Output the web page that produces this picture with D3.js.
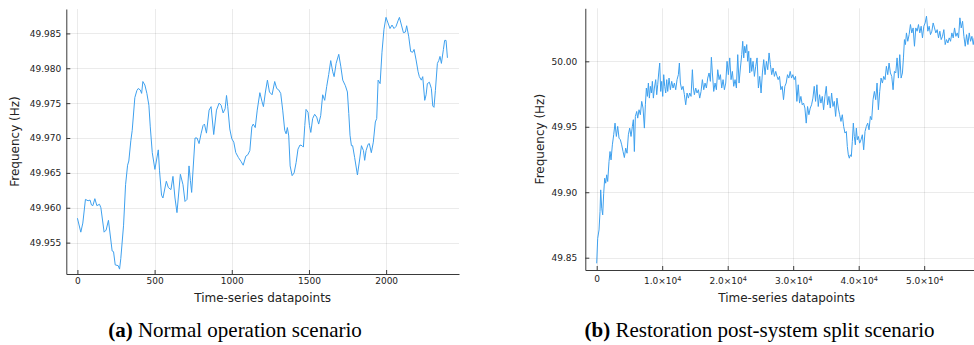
<!DOCTYPE html>
<html>
<head>
<meta charset="utf-8">
<script src="https://cdn.jsdelivr.net/npm/d3@7"></script>
<style>
  body { margin: 0; background: #fff; }
  svg { display: block; }
  .tick text { font-family: "DejaVu Sans", sans-serif; font-size: 9px; fill: #222; }
</style>
</head>
<body>
<svg id="fig" width="974" height="345"></svg>
<script>
// ---- (a) normal operation: sample index / frequency in Hz ----
const normalIdx = [
  0, 22, 35, 52, 69, 82, 91, 100, 113, 126, 143, 152, 173, 186, 201, 225, 234, 245, 264, 273,
  281, 299, 312, 325, 333, 346, 355, 372, 385, 394, 407, 416, 424, 437, 450, 463, 472, 485, 502, 524,
  532, 545, 554, 576, 589, 606, 619, 632, 645, 667, 684, 697, 710, 723, 732, 740, 762, 775, 788, 801,
  814, 823, 836, 853, 866, 883, 901, 918, 931, 944, 957, 966, 974, 987, 1000, 1013, 1026, 1043, 1061, 1074,
  1091, 1104, 1117, 1130, 1139, 1152, 1165, 1182, 1196, 1205, 1218, 1231, 1244, 1261, 1278, 1291, 1304, 1317, 1330, 1343,
  1352, 1360, 1369, 1378, 1391, 1404, 1417, 1429, 1442, 1455, 1464, 1473, 1481, 1494, 1503, 1512, 1524, 1537, 1550, 1563,
  1576, 1589, 1602, 1615, 1628, 1641, 1654, 1663, 1676, 1693, 1706, 1719, 1736, 1749, 1758, 1766, 1775, 1783, 1796, 1814,
  1827, 1840, 1853, 1861, 1870, 1883, 1891, 1904, 1917, 1930, 1939, 1948, 1961, 1973, 1986, 1999, 2012, 2025, 2038, 2051,
  2064, 2077, 2086, 2099, 2112, 2125, 2133, 2146, 2159, 2172, 2181, 2194, 2207, 2215, 2228, 2237, 2250, 2259, 2267, 2280,
  2293, 2302, 2310, 2319, 2332, 2341, 2349, 2358, 2371, 2379, 2388, 2397
];
const normalHz = [
  49.9585, 49.9565, 49.9578, 49.9612, 49.9610, 49.9611, 49.9604, 49.9603, 49.9613, 49.9603, 49.9605, 49.9600, 49.9565, 49.9568, 49.9582, 49.9538, 49.9537, 49.9518, 49.9517, 49.9512,
  49.9527, 49.9575, 49.9633, 49.9661, 49.9667, 49.9696, 49.9711, 49.9758, 49.9768, 49.9771, 49.9769, 49.9764, 49.9781, 49.9776, 49.9764, 49.9747, 49.9716, 49.9679, 49.9655, 49.9683,
  49.9653, 49.9618, 49.9614, 49.9638, 49.9629, 49.9626, 49.9645, 49.9614, 49.9593, 49.9648, 49.9633, 49.9609, 49.9612, 49.9660, 49.9639, 49.9622, 49.9700, 49.9700, 49.9692, 49.9706,
  49.9718, 49.9720, 49.9707, 49.9740, 49.9745, 49.9705, 49.9740, 49.9750, 49.9747, 49.9736, 49.9742, 49.9761, 49.9745, 49.9713, 49.9699, 49.9694, 49.9679, 49.9672, 49.9666, 49.9661,
  49.9674, 49.9676, 49.9682, 49.9716, 49.9720, 49.9715, 49.9740, 49.9765, 49.9752, 49.9745, 49.9766, 49.9783, 49.9766, 49.9762, 49.9781, 49.9771, 49.9769, 49.9764, 49.9740, 49.9711,
  49.9706, 49.9715, 49.9703, 49.9660, 49.9646, 49.9650, 49.9665, 49.9684, 49.9690, 49.9689, 49.9687, 49.9718, 49.9741, 49.9737, 49.9718, 49.9708, 49.9728, 49.9734, 49.9730, 49.9720,
  49.9732, 49.9762, 49.9754, 49.9774, 49.9791, 49.9811, 49.9795, 49.9788, 49.9807, 49.9820, 49.9803, 49.9783, 49.9775, 49.9766, 49.9735, 49.9704, 49.9689, 49.9689, 49.9672, 49.9647,
  49.9667, 49.9689, 49.9682, 49.9668, 49.9682, 49.9691, 49.9692, 49.9679, 49.9694, 49.9723, 49.9728, 49.9783, 49.9778, 49.9823, 49.9856, 49.9873, 49.9865, 49.9857, 49.9862, 49.9857,
  49.9860, 49.9868, 49.9873, 49.9862, 49.9851, 49.9852, 49.9861, 49.9846, 49.9824, 49.9823, 49.9827, 49.9812, 49.9795, 49.9788, 49.9783, 49.9788, 49.9754, 49.9762, 49.9778, 49.9780,
  49.9771, 49.9746, 49.9744, 49.9768, 49.9807, 49.9811, 49.9817, 49.9807, 49.9827, 49.9840, 49.9840, 49.9815
];

// ---- (b) restoration after system split: sample index / frequency in Hz ----
const splitIdx = [
  0, 153, 356, 509, 611, 764, 916, 1069, 1222, 1374, 1527, 1680, 1883, 2036, 2189, 2392, 2596, 2800, 3003, 3207,
  3410, 3614, 3817, 4021, 4225, 4428, 4632, 4836, 5039, 5243, 5446, 5599, 5752, 5904, 6108, 6261, 6464, 6668, 6872, 7075,
  7279, 7431, 7584, 7737, 7890, 8042, 8195, 8348, 8500, 8653, 8806, 9009, 9162, 9315, 9467, 9620, 9773, 9926, 10078, 10231,
  10384, 10536, 10689, 10842, 11045, 11249, 11453, 11656, 11860, 12063, 12267, 12471, 12623, 12776, 12980, 13183, 13387, 13590, 13794, 13998,
  14201, 14405, 14608, 14761, 14914, 15117, 15321, 15525, 15728, 15932, 16135, 16339, 16543, 16746, 16950, 17153, 17357, 17510, 17662, 17866,
  18069, 18273, 18477, 18680, 18884, 19087, 19291, 19495, 19698, 19902, 20105, 20309, 20513, 20716, 20920, 21123, 21327, 21531, 21734, 21938,
  22141, 22294, 22447, 22600, 22752, 22905, 23058, 23210, 23363, 23516, 23669, 23872, 24076, 24279, 24483, 24686, 24890, 25094, 25297, 25501,
  25704, 25908, 26112, 26315, 26519, 26722, 26926, 27130, 27333, 27537, 27705, 27909, 28113, 28317, 28521, 28725, 28929, 29133, 29337, 29541,
  29745, 29949, 30153, 30357, 30561, 30765, 30969, 31173, 31377, 31581, 31785, 31989, 32193, 32397, 32601, 32805, 33009, 33213, 33417, 33621,
  33825, 34029, 34233, 34437, 34641, 34845, 35049, 35253, 35457, 35661, 35865, 36069, 36273, 36477, 36681, 36885, 37089, 37293, 37497, 37701,
  37905, 38109, 38262, 38415, 38568, 38721, 38874, 39027, 39180, 39333, 39486, 39639, 39792, 39945, 40149, 40353, 40557, 40761, 40965, 41169,
  41373, 41577, 41781, 41985, 42189, 42393, 42597, 42801, 43005, 43209, 43413, 43617, 43821, 44025, 44229, 44433, 44637, 44841, 45045, 45249,
  45453, 45657, 45861, 46065, 46269, 46473, 46677, 46830, 46983, 47136, 47289, 47493, 47697, 47901, 48105, 48309, 48513, 48717, 48921, 49125,
  49329, 49533, 49737, 49941, 50145, 50349, 50553, 50757, 50961, 51165, 51369, 51573, 51777, 51981, 52185, 52389, 52593, 52797, 53001, 53205,
  53409, 53613, 53817, 54021, 54225, 54429, 54633, 54837, 55041, 55245, 55449, 55653, 55857, 56061, 56265, 56469, 56673, 56877, 57081, 57285,
  57489, 57642, 57900
];
const splitHz = [
  49.8457, 49.8648, 49.8712, 49.8852, 49.9018, 49.8878, 49.8827, 49.8992, 49.9107, 49.9069, 49.9133, 49.9082, 49.9235, 49.9311, 49.9247, 49.9362, 49.9439, 49.9528, 49.9426, 49.9503,
  49.9413, 49.9401, 49.9362, 49.9311, 49.9265, 49.9337, 49.9298, 49.9439, 49.9490, 49.9426, 49.9503, 49.9554, 49.9311, 49.9579, 49.9617, 49.9566, 49.9630, 49.9592, 49.9694, 49.9643,
  49.9490, 49.9668, 49.9796, 49.9732, 49.9834, 49.9719, 49.9809, 49.9758, 49.9847, 49.9719, 49.9796, 49.9860, 49.9745, 49.9821, 49.9911, 49.9987, 49.9770, 49.9847, 49.9732, 49.9898,
  49.9809, 49.9758, 49.9860, 49.9770, 49.9872, 49.9783, 49.9847, 49.9796, 49.9834, 49.9783, 49.9860, 49.9898, 49.9987, 49.9834, 49.9783, 49.9809, 49.9745, 49.9668, 49.9758, 49.9719,
  49.9758, 49.9732, 49.9936, 49.9796, 49.9745, 49.9796, 49.9758, 49.9783, 49.9719, 49.9770, 49.9860, 49.9783, 49.9834, 49.9796, 49.9872, 49.9911, 49.9847, 50.0031, 49.9911, 49.9770,
  49.9834, 49.9783, 49.9936, 49.9860, 49.9898, 49.9796, 49.9860, 49.9783, 49.9834, 50.0000, 49.9898, 50.0026, 49.9860, 49.9923, 49.9809, 49.9860, 49.9796, 50.0051, 49.9834, 49.9949,
  50.0051, 50.0153, 50.0026, 50.0115, 50.0064, 50.0128, 50.0000, 50.0077, 49.9911, 50.0026, 49.9923, 50.0000, 49.9885, 49.9962, 50.0026, 49.9796, 49.9885, 49.9758, 49.9911, 50.0013,
  49.9898, 50.0000, 49.9936, 50.0064, 49.9974, 49.9898, 49.9949, 49.9885, 49.9923, 49.9885, 49.9860, 49.9885, 49.9783, 49.9809, 49.9707, 49.9809, 49.9834, 49.9898, 49.9872, 49.9923,
  49.9872, 49.9898, 49.9860, 49.9885, 49.9694, 49.9821, 49.9681, 49.9732, 49.9668, 49.9681, 49.9643, 49.9528, 49.9655, 49.9592, 49.9643, 49.9668, 49.9719, 49.9809, 49.9694, 49.9821,
  49.9655, 49.9745, 49.9681, 49.9732, 49.9630, 49.9732, 49.9809, 49.9668, 49.9732, 49.9643, 49.9758, 49.9655, 49.9694, 49.9579, 49.9719, 49.9643, 49.9592, 49.9541, 49.9592, 49.9503,
  49.9452, 49.9464, 49.9350, 49.9286, 49.9260, 49.9286, 49.9273, 49.9388, 49.9528, 49.9426, 49.9362, 49.9490, 49.9401, 49.9426, 49.9375, 49.9401, 49.9439, 49.9324, 49.9464, 49.9503,
  49.9528, 49.9477, 49.9579, 49.9554, 49.9707, 49.9770, 49.9707, 49.9834, 49.9630, 49.9770, 49.9872, 49.9834, 49.9885, 49.9860, 49.9962, 49.9898, 49.9987, 49.9911, 49.9885, 49.9783,
  49.9923, 49.9911, 50.0026, 49.9872, 50.0051, 49.9872, 49.9911, 50.0026, 50.0166, 50.0128, 50.0217, 50.0153, 50.0204, 50.0281, 50.0217, 50.0255, 50.0115, 50.0255, 50.0230, 50.0281,
  50.0217, 50.0268, 50.0179, 50.0268, 50.0293, 50.0345, 50.0230, 50.0268, 50.0204, 50.0230, 50.0293, 50.0255, 50.0217, 50.0242, 50.0179, 50.0230, 50.0166, 50.0191, 50.0242, 50.0128,
  50.0166, 50.0140, 50.0179, 50.0153, 50.0217, 50.0179, 50.0255, 50.0191, 50.0217, 50.0179, 50.0332, 50.0255, 50.0306, 50.0191, 50.0115, 50.0204, 50.0128, 50.0217, 50.0153, 50.0191,
  50.0128, 50.0179, 50.0150
];

// ---- tick values ----
const normalXTicks = [0, 500, 1000, 1500, 2000];
const normalYTicks = [49.955, 49.960, 49.965, 49.970, 49.975, 49.980, 49.985];
const splitXTicks = [0, 10000, 20000, 30000, 40000, 50000];
const splitYTicks = [49.85, 49.90, 49.95, 50.00];

const LINE_COLOR = "#3ea0ee";
const svg = d3.select("#fig");

// x tick label in the 1.0×10⁴ style used for the long series
function sciLabel(sel) {
  sel.each(function (d) {
    const t = d3.select(this);
    t.text(null);
    if (d === 0) { t.text("0").attr("y", +t.attr("y") - 2.5); return; }
    const exp = Math.floor(Math.log10(d));
    const mant = (d / Math.pow(10, exp)).toFixed(1);
    t.append("tspan").text(mant + "\u00d710");
    t.append("tspan").attr("dy", "-0.45em").attr("font-size", "6.5px").text(exp);
  });
}

function drawPanel(p) {
  const x = d3.scaleLinear().domain(p.xDomain).range([p.left, p.right]);
  const y = d3.scaleLinear().domain(p.yDomain).range([p.bottom, p.top]);
  const g = svg.append("g");

  const clipId = "clip-" + p.id;
  g.append("clipPath").attr("id", clipId)
    .append("rect").attr("x", p.left).attr("y", p.top)
    .attr("width", p.right - p.left).attr("height", p.bottom - p.top);

  // grid
  const grid = g.append("g").attr("stroke", "#000").attr("stroke-opacity", 0.08).attr("stroke-width", 1);
  grid.selectAll("line.gx").data(p.xTicks).join("line")
    .attr("x1", d => Math.round(x(d)) + 0.5).attr("x2", d => Math.round(x(d)) + 0.5)
    .attr("y1", p.top).attr("y2", p.bottom);
  grid.selectAll("line.gy").data(p.yTicks).join("line")
    .attr("y1", d => Math.round(y(d)) + 0.5).attr("y2", d => Math.round(y(d)) + 0.5)
    .attr("x1", p.left).attr("x2", p.right);

  // series
  const pts = p.xs.map((v, i) => [v, p.ys[i]]);
  g.append("path")
    .attr("clip-path", `url(#${clipId})`)
    .attr("d", d3.line().x(d => x(d[0])).y(d => y(d[1]))(pts))
    .attr("fill", "none")
    .attr("stroke", LINE_COLOR)
    .attr("stroke-width", p.lineWidth)
    .attr("stroke-linejoin", "round");

  // axes with short inward ticks
  const xAxis = d3.axisBottom(x).tickValues(p.xTicks).tickSize(-4).tickSizeOuter(0).tickPadding(p.xPad);
  if (p.xFormat) xAxis.tickFormat(p.xFormat);
  const gx = g.append("g").attr("transform", `translate(0,${p.bottom})`).call(xAxis);
  if (p.sci) gx.selectAll(".tick text").call(sciLabel);

  const yAxis = d3.axisLeft(y).tickValues(p.yTicks).tickSize(-4).tickSizeOuter(0)
    .tickPadding(p.yPad).tickFormat(p.yFormat);
  const gy = g.append("g").attr("transform", `translate(${p.left},0)`).call(yAxis);

  [gx, gy].forEach(a => {
    a.select(".domain").attr("stroke", "#3a3a3a").attr("stroke-width", 1);
    a.selectAll(".tick line").attr("stroke", "#3a3a3a");
  });

  // axis titles
  g.append("text")
    .attr("x", (p.left + p.right) / 2).attr("y", 301.5)
    .attr("text-anchor", "middle")
    .attr("font-family", "DejaVu Sans, sans-serif").attr("font-size", 12).attr("fill", "#222")
    .text("Time-series datapoints");
  g.append("text")
    .attr("transform", `translate(${p.yTitleX},${(p.top + p.bottom) / 2}) rotate(-90)`)
    .attr("text-anchor", "middle").attr("dy", "0.35em")
    .attr("font-family", "DejaVu Sans, sans-serif").attr("font-size", 12).attr("fill", "#222")
    .text("Frequency (Hz)");

  // caption
  const cap = g.append("text")
    .attr("x", p.captionX).attr("y", 337)
    .attr("text-anchor", "middle")
    .attr("font-family", "Liberation Serif, Times New Roman, serif").attr("font-size", 21).attr("fill", "#000");
  cap.append("tspan").attr("font-weight", "bold").text(p.tag);
  cap.append("tspan").text(" " + p.caption);
}

drawPanel({
  id: "a", xs: normalIdx, ys: normalHz,
  xDomain: [-72, 2472], yDomain: [49.9505, 49.9885],
  left: 66.3, right: 459, top: 9, bottom: 274,
  xTicks: normalXTicks, yTicks: normalYTicks,
  xFormat: d3.format("d"), yFormat: d3.format(".3f"),
  xPad: 4, yPad: 5, lineWidth: 1,
  yTitleX: 15, captionX: 235,
  tag: "(a)", caption: "Normal operation scenario"
});

drawPanel({
  id: "b", xs: splitIdx, ys: splitHz,
  xDomain: [-1740, 59740], yDomain: [49.8406, 50.0405],
  left: 585.3, right: 988, top: 8.3, bottom: 270,
  xTicks: splitXTicks, yTicks: splitYTicks,
  sci: true, yFormat: d3.format(".2f"),
  xPad: 8, yPad: 8, lineWidth: 1,
  yTitleX: 540, captionX: 759.5,
  tag: "(b)", caption: "Restoration post-system split scenario"
});
</script>
</body>
</html>
